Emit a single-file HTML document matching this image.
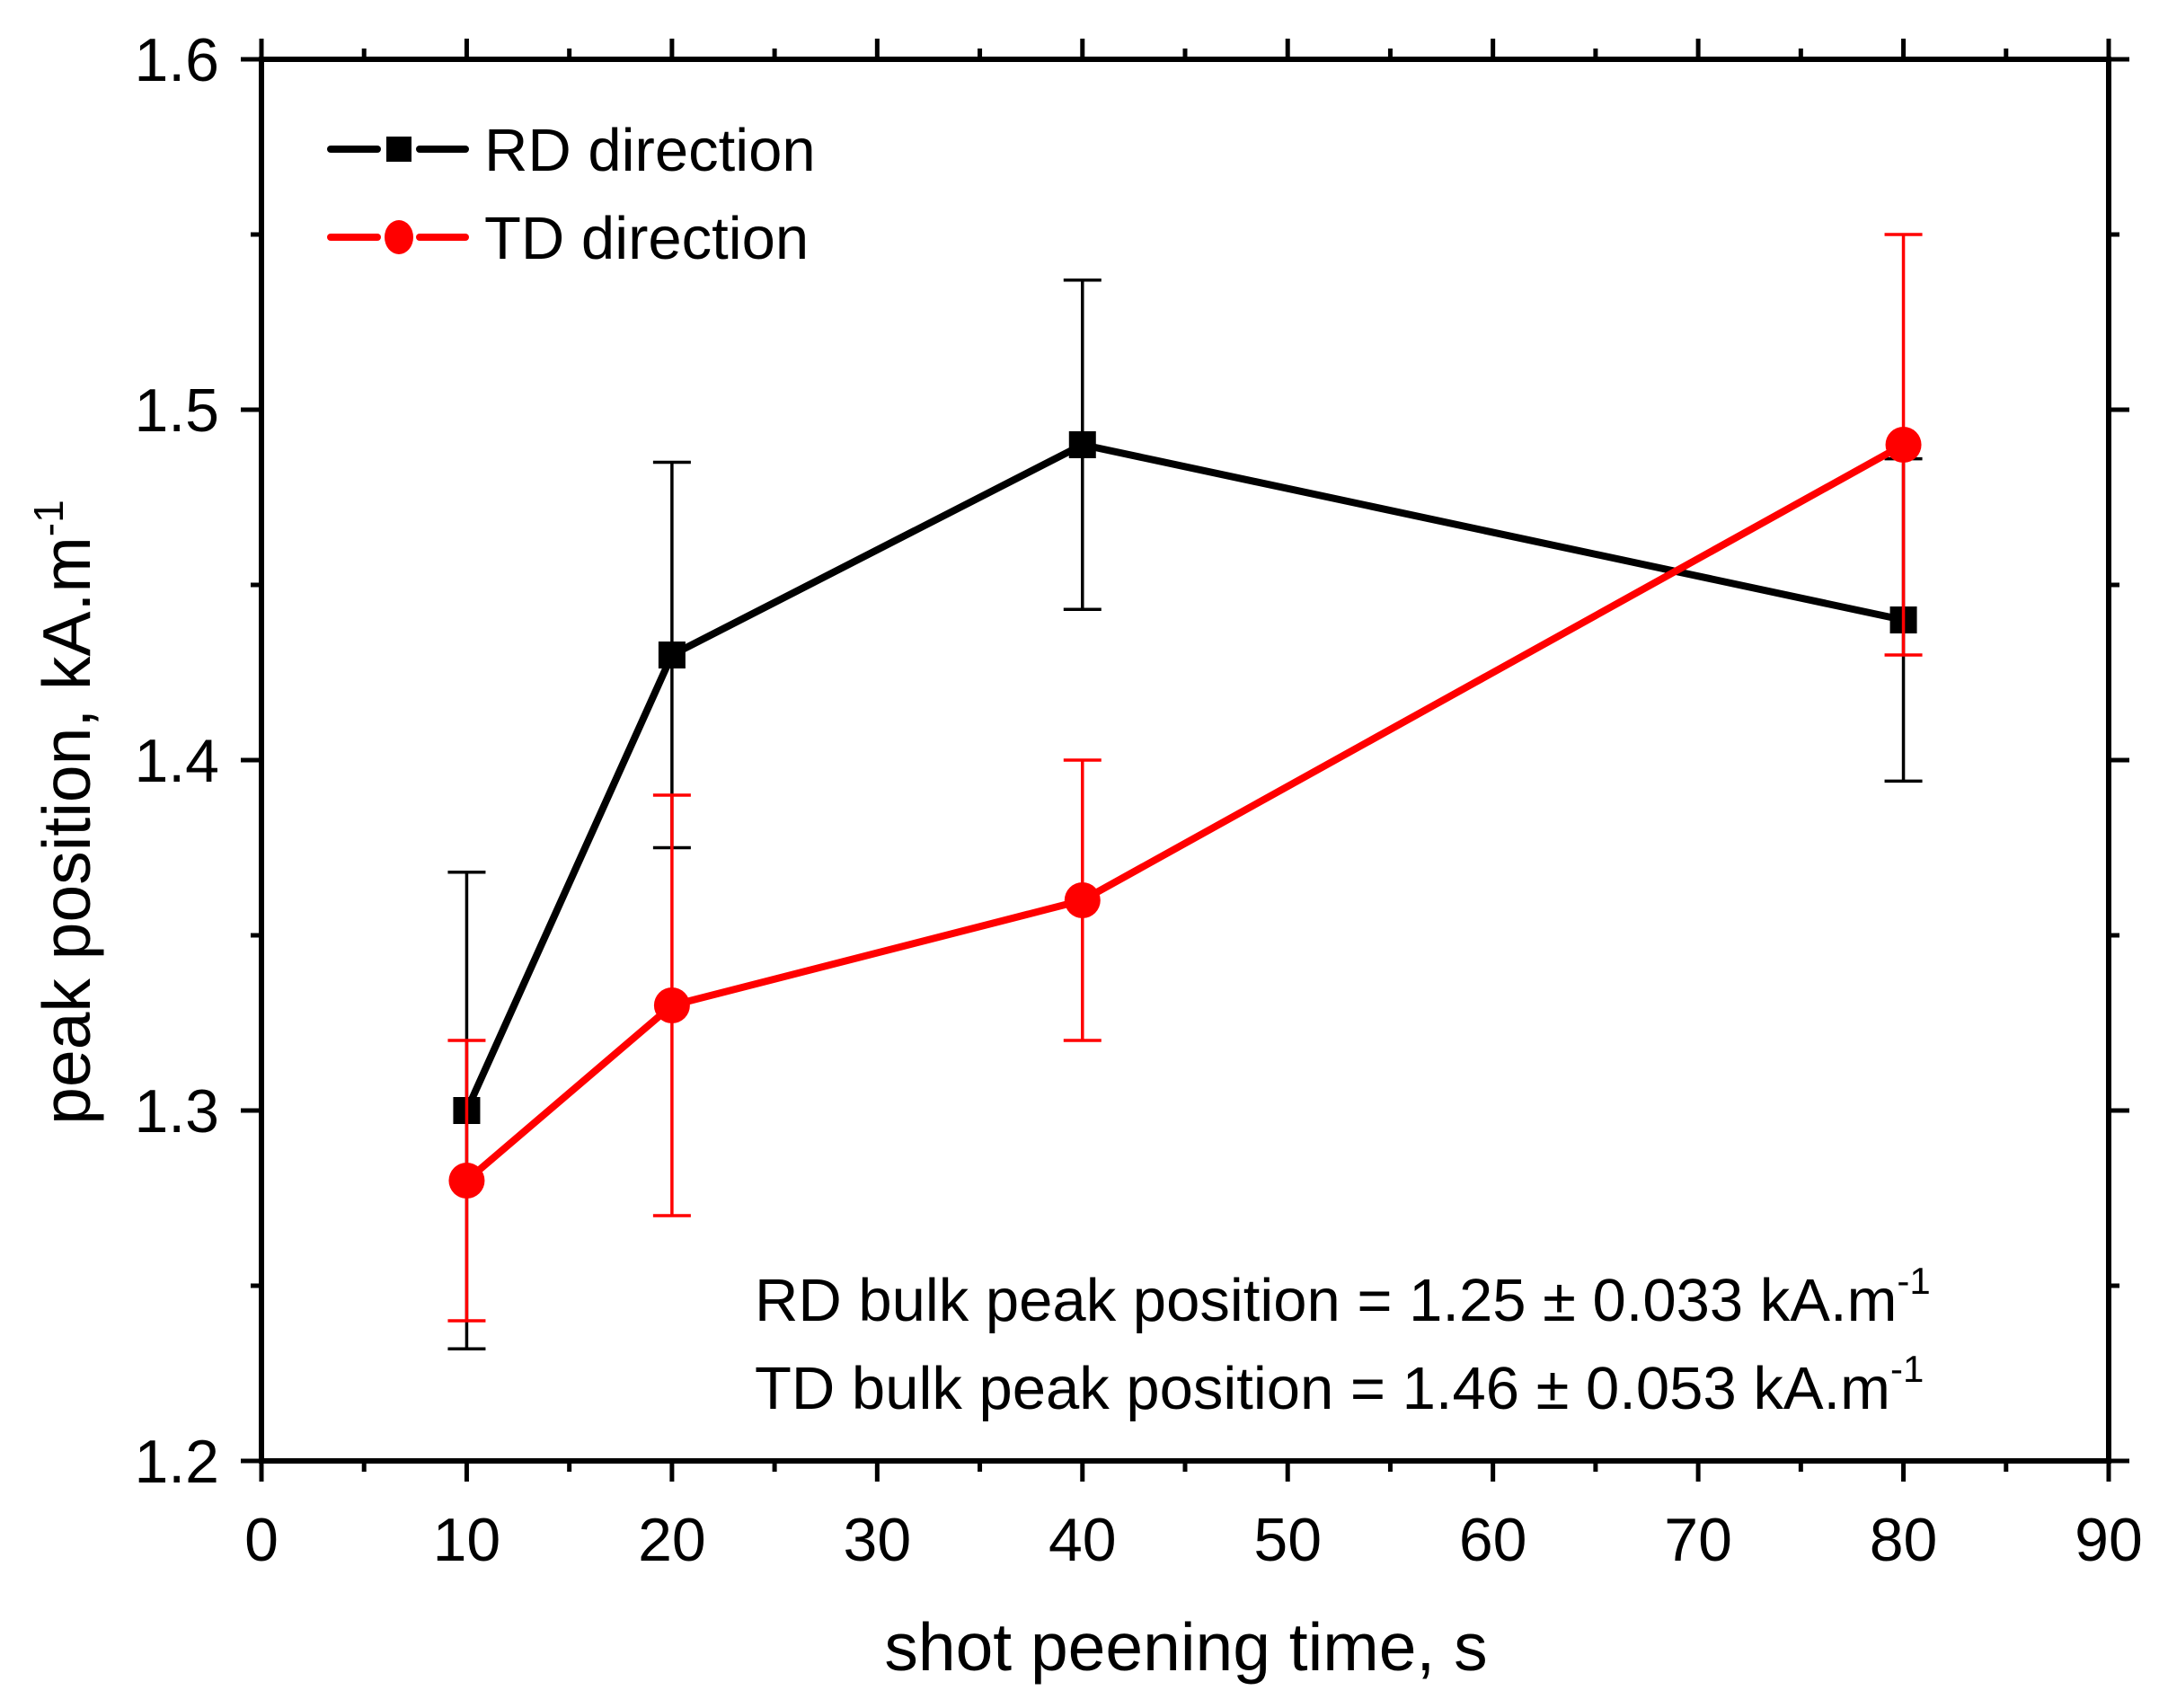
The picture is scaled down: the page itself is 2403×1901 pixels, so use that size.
<!DOCTYPE html>
<html><head><meta charset="utf-8"><style>
html,body{margin:0;padding:0;background:#fff}
svg{display:block;font-family:"Liberation Sans",sans-serif}
</style></head><body>
<svg id="chart" width="2403" height="1901" viewBox="0 0 2403 1901" xmlns="http://www.w3.org/2000/svg">
<rect width="2403" height="1901" fill="#fff"/>
<g id="plot"></g>
</svg>
<script>
const xValues = [10, 20, 40, 80];
const rdValues = [1.30, 1.43, 1.49, 1.44];
const rdErrors = [0.068, 0.055, 0.047, 0.046];
const tdValues = [1.28, 1.33, 1.36, 1.49];
const tdErrors = [0.04, 0.06, 0.04, 0.06];
const xTicks = [0, 10, 20, 30, 40, 50, 60, 70, 80, 90];
const yTicks = ["1.2", "1.3", "1.4", "1.5", "1.6"];

const L = 291, R = 2347, T = 66, B = 1626;
const xMin = 0, xMax = 90, yMin = 1.2, yMax = 1.6;
const sx = v => L + (v - xMin) / (xMax - xMin) * (R - L);
const sy = v => B - (v - yMin) / (yMax - yMin) * (B - T);
const NS = "http://www.w3.org/2000/svg";
const g = document.getElementById('plot');
function mk(tag, attrs, parent) {
  const e = document.createElementNS(NS, tag);
  for (const k in attrs) e.setAttribute(k, attrs[k]);
  (parent || g).appendChild(e);
  return e;
}

for (let i = 0; i <= 18; i++) {
  const v = i * 5, x = sx(v), major = i % 2 === 0, len = major ? 23 : 12;
  const t1 = mk('line', {x1: x, x2: x, y1: B, y2: B + len, stroke: '#000', 'stroke-width': 5});
  
  
  const t2 = mk('line', {x1: x, x2: x, y1: T, y2: T - len, stroke: '#000', 'stroke-width': 5});
  
  
}
xTicks.forEach(v => {
  const t = mk('text', {x: sx(v), y: 1737, 'font-size': 68, 'text-anchor': 'middle'});
  t.textContent = v;
  
  
});
for (let i = 0; i <= 8; i++) {
  const v = 1.2 + i * 0.05, y = sy(v), major = i % 2 === 0, len = major ? 23 : 12;
  const t1 = mk('line', {x1: L, x2: L - len, y1: y, y2: y, stroke: '#000', 'stroke-width': 5});
  
  
  const t2 = mk('line', {x1: R, x2: R + len, y1: y, y2: y, stroke: '#000', 'stroke-width': 5});
  
  
}
yTicks.forEach(s => {
  const t = mk('text', {x: 244, y: sy(parseFloat(s)) + 24, 'font-size': 68, 'text-anchor': 'end'});
  t.textContent = s;
  
  
});
const frame = mk('rect', {x: L, y: T, width: R - L, height: B - T, fill: 'none', stroke: '#000', 'stroke-width': 6});



function series(vals, errs, color, name, marker) {
  const pts = xValues.map((x, i) => sx(x) + ',' + sy(vals[i])).join(' ');
  const pl = mk('polyline', {points: pts, fill: 'none', stroke: color, 'stroke-width': 8, 'stroke-linejoin': 'round'});
  
  
  xValues.forEach((xv, i) => {
    const x = sx(xv), y1 = sy(vals[i] + errs[i]), y2 = sy(vals[i] - errs[i]);
    const eg = mk('g', {stroke: color, 'stroke-width': 3.5});
    
    
    mk('line', {x1: x, x2: x, y1: y1, y2: y2}, eg);
    mk('line', {x1: x - 21, x2: x + 21, y1: y1, y2: y1}, eg);
    mk('line', {x1: x - 21, x2: x + 21, y1: y2, y2: y2}, eg);
  });
  xValues.forEach((xv, i) => {
    const x = sx(xv), y = sy(vals[i]);
    let m;
    if (marker === 'square') m = mk('rect', {x: x - 15, y: y - 15, width: 30, height: 30, fill: color});
    else m = mk('circle', {cx: x, cy: y, r: 20, fill: color});
    
    
  });
}
series(rdValues, rdErrors, '#000', 'rd', 'square');
series(tdValues, tdErrors, '#ff0000', 'td', 'circle');
</script>
<svg style="position:absolute;left:0;top:0" width="2403" height="1901" xmlns="http://www.w3.org/2000/svg">
<g>
<line x1="368" y1="166" x2="420" y2="166" stroke="#000" stroke-width="8" stroke-linecap="round"/>
<line x1="467" y1="166" x2="518" y2="166" stroke="#000" stroke-width="8" stroke-linecap="round"/>
<rect x="430" y="152" width="28" height="28" fill="#000"/>
<text x="539" y="190" font-size="67" font-family="Liberation Sans, sans-serif">RD direction</text>
<line x1="368" y1="264" x2="420" y2="264" stroke="#ff0000" stroke-width="8" stroke-linecap="round"/>
<line x1="467" y1="264" x2="518" y2="264" stroke="#ff0000" stroke-width="8" stroke-linecap="round"/>
<ellipse cx="444" cy="264" rx="16" ry="19" fill="#ff0000"/>
<text x="539" y="288" font-size="67" font-family="Liberation Sans, sans-serif">TD direction</text>
</g>
<text x="840" y="1470" font-size="67" font-family="Liberation Sans, sans-serif">RD bulk peak position = 1.25 ± 0.033 kA.m<tspan dy="-30" font-size="42">-1</tspan></text>
<text x="840" y="1568" font-size="67" font-family="Liberation Sans, sans-serif">TD bulk peak position = 1.46 ± 0.053 kA.m<tspan dy="-30" font-size="42">-1</tspan></text>
<text x="1320" y="1859" font-size="75" text-anchor="middle" font-family="Liberation Sans, sans-serif">shot peening time, s</text>
<text transform="translate(100,904) rotate(-90)" font-size="75" text-anchor="middle" font-family="Liberation Sans, sans-serif">peak position, kA.m<tspan dy="-30" font-size="46">-1</tspan></text>
</svg>
</body></html>
